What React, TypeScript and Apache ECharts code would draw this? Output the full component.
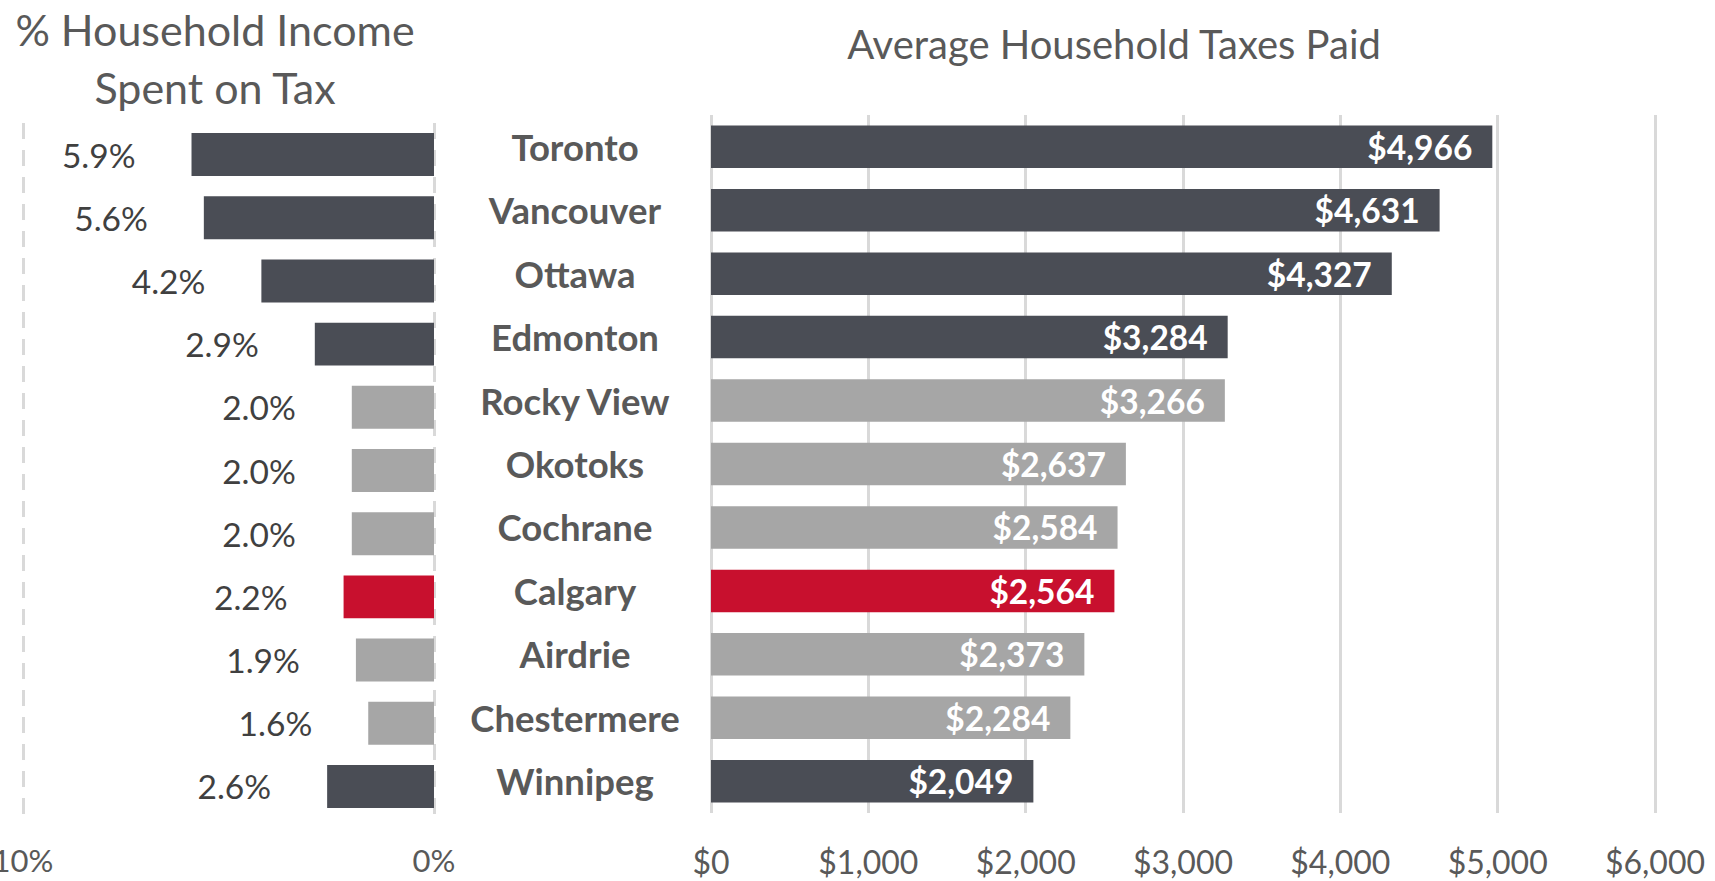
import React, { useEffect, useRef } from "react";
import * as echarts from "echarts";

const cities = [
  "Toronto",
  "Vancouver",
  "Ottawa",
  "Edmonton",
  "Rocky View",
  "Okotoks",
  "Cochrane",
  "Calgary",
  "Airdrie",
  "Chestermere",
  "Winnipeg",
];
const pctIncomeOnTax = [5.9, 5.6, 4.2, 2.9, 2.0, 2.0, 2.0, 2.2, 1.9, 1.6, 2.6];
const avgTaxesPaid = [4966, 4631, 4327, 3284, 3266, 2637, 2584, 2564, 2373, 2284, 2049];
const cityGroup = [
  "major",
  "major",
  "major",
  "major",
  "region",
  "region",
  "region",
  "calgary",
  "region",
  "region",
  "major",
];
const pctTicks = { min: 0, max: 10, interval: 10 };
const taxTicks = { min: 0, max: 6000, interval: 1000 };

const groupColor: Record<string, string> = {
  major: "#4A4D55",
  region: "#A6A6A6",
  calgary: "#C8102E",
};

const FONT = "Lato, 'Open Sans', sans-serif";

export default function App() {
  const ref = useRef<HTMLDivElement>(null);
  useEffect(() => {
    if (!ref.current) return;
    const chart = echarts.init(ref.current, undefined, { renderer: "svg" });
    const option = {
      animation: false,
      backgroundColor: "#ffffff",
      textStyle: { fontFamily: FONT },
      title: [
        {
          text: "% Household Income\nSpent on Tax",
          left: 215,
          top: 0,
          padding: 0,
          textAlign: "center",
          textStyle: {
            fontFamily: FONT,
            fontSize: 43,
            fontWeight: "normal",
            color: "#595959",
            lineHeight: 58,
          },
        },
        {
          text: "Average Household Taxes Paid",
          left: 1109,
          top: 19,
          textAlign: "center",
          textStyle: {
            fontFamily: FONT,
            fontSize: 40,
            fontWeight: "normal",
            color: "#595959",
          },
        },
      ],
      grid: [
        { left: 23, top: 123, width: 411, height: 695, containLabel: false, outerBoundsMode: "none" },
        { left: 711, top: 115, width: 944, height: 698, containLabel: false, outerBoundsMode: "none" },
      ],
      xAxis: [
        {
          type: "value",
          gridIndex: 0,
          inverse: true,
          min: pctTicks.min,
          max: pctTicks.max,
          interval: pctTicks.interval,
          axisLine: { show: false },
          axisTick: { show: false },
          splitLine: {
            show: true,
            lineStyle: { color: "#D9D9D9", width: 3, type: [16, 11] },
          },
          axisLabel: {
            margin: 26,
            fontFamily: FONT,
            fontSize: 31,
            color: "#595959",
            formatter: (v: number) => `${v}%`,
          },
        },
        {
          type: "value",
          gridIndex: 1,
          min: taxTicks.min,
          max: taxTicks.max,
          interval: taxTicks.interval,
          axisLine: { show: false },
          axisTick: { show: false },
          splitLine: {
            show: true,
            lineStyle: { color: "#D9D9D9", width: 3, type: "solid" },
          },
          axisLabel: {
            margin: 32,
            fontFamily: FONT,
            fontSize: 32,
            color: "#595959",
            formatter: (v: number) => "$" + v.toLocaleString("en-US"),
          },
        },
      ],
      yAxis: [
        {
          type: "category",
          gridIndex: 0,
          inverse: true,
          data: cities,
          axisLine: { show: false },
          axisTick: { show: false },
          axisLabel: { show: false },
        },
        {
          type: "category",
          gridIndex: 1,
          inverse: true,
          data: cities,
          axisLine: { show: false },
          axisTick: { show: false },
          axisLabel: {
            show: true,
            align: "center",
            margin: 136,
            fontFamily: FONT,
            fontSize: 36.5,
            fontWeight: "bold",
            color: "#595959",
          },
        },
      ],
      series: [
        {
          type: "bar",
          xAxisIndex: 0,
          yAxisIndex: 0,
          barCategoryGap: "32%",
          data: pctIncomeOnTax.map((v, i) => ({
            value: v,
            itemStyle: { color: groupColor[cityGroup[i]] },
          })),
          label: {
            show: true,
            position: "left",
            distance: 56,
            fontFamily: FONT,
            fontSize: 33.5,
            color: "#404040",
            formatter: (p: any) => `${Number(p.value).toFixed(1)}%`,
          },
        },
        {
          type: "bar",
          xAxisIndex: 1,
          yAxisIndex: 1,
          barCategoryGap: "33%",
          data: avgTaxesPaid.map((v, i) => ({
            value: v,
            itemStyle: { color: groupColor[cityGroup[i]] },
          })),
          label: {
            show: true,
            position: "insideRight",
            distance: 20,
            fontFamily: FONT,
            fontSize: 33.5,
            fontWeight: "bold",
            color: "#FFFFFF",
            formatter: (p: any) => "$" + Number(p.value).toLocaleString("en-US"),
          },
        },
      ],
    };
    chart.setOption(option as any);
    return () => chart.dispose();
  }, []);
  return (
    <div
      ref={ref}
      style={{ position: "fixed", left: 0, top: 0, width: 1715, height: 881 }}
    />
  );
}
